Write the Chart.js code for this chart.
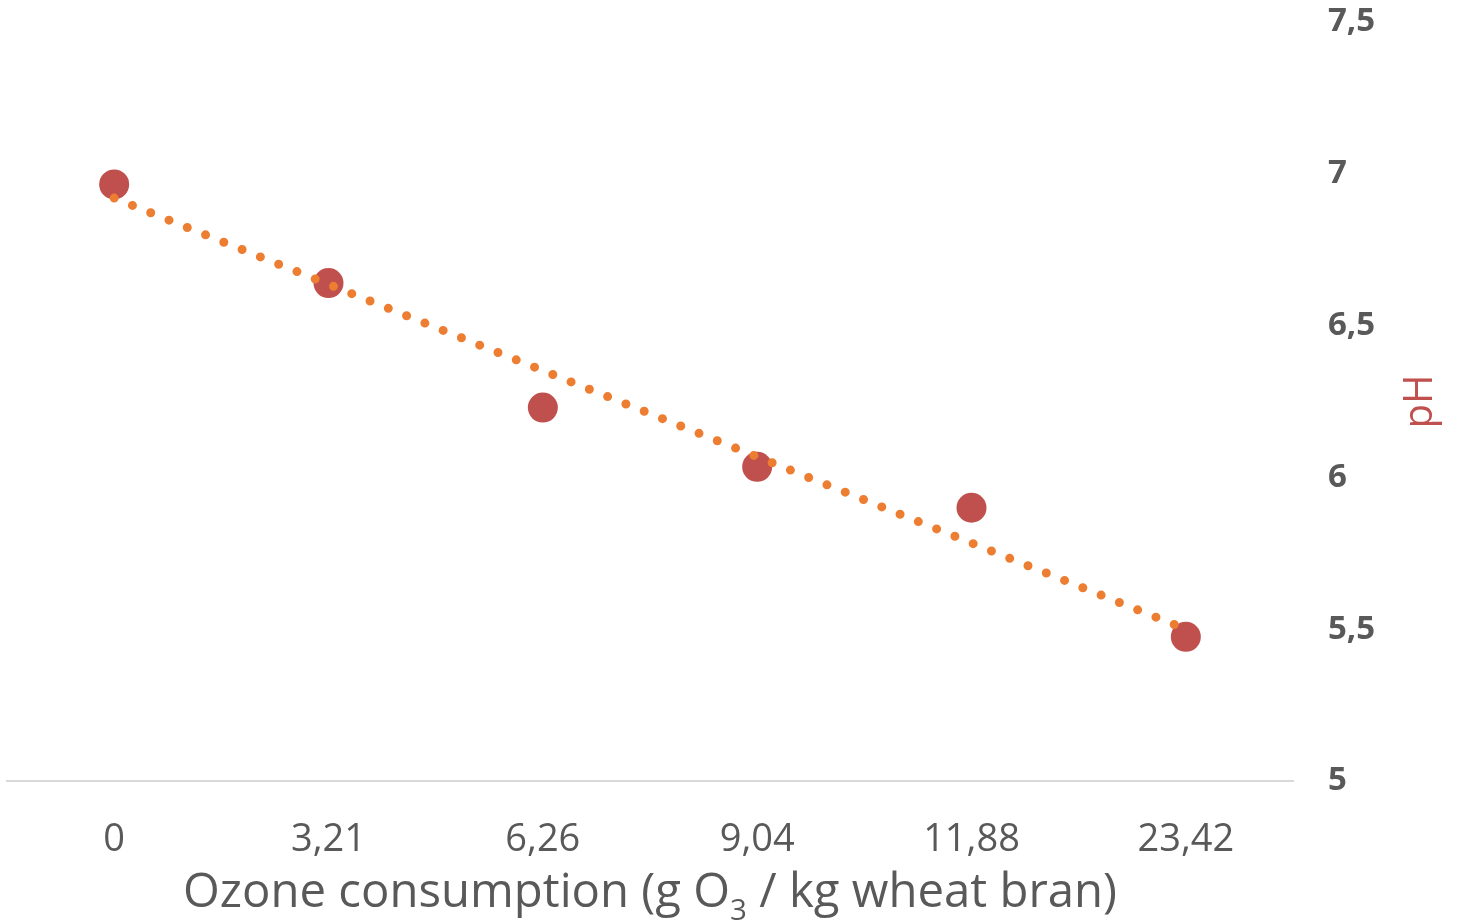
<!DOCTYPE html>
<html>
<head>
<meta charset="utf-8">
<script src="https://cdn.jsdelivr.net/npm/chart.js@4.4.1/dist/chart.umd.min.js"></script>
<style>
  html, body { margin: 0; padding: 0; background: #fff; }
</style>
</head>
<body>
<canvas id="grafica" width="1463" height="920"></canvas>
<script>
// ========== DATOS ==========
const categorias = ["0", "3,21", "6,26", "9,04", "11,88", "23,42"];
const valoresPH  = [6.965, 6.64, 6.23, 6.035, 5.90, 5.475];
// linea de tendencia (inicio y fin)
const tendencia  = [6.92, null, null, null, null, 5.50];
const ticksY     = [5, 5.5, 6, 6.5, 7, 7.5];

const tituloX = ["Ozone consumption (g O", "3", " / kg wheat bran)"];
const tituloY = "pH";

// -------------- UTILS ----------------
function coma(v){ return String(v).replace(".", ","); }

// ========== TITULOS (con subindice) ==========
const titulos = {
  id: "titulos",
  afterDraw(chart){
    const ctx = chart.ctx;
    const area = chart.chartArea;

    // titulo eje X
    const partes = [
      { t: tituloX[0], f: "48px 'Open Sans'", dy: 0 },
      { t: tituloX[1], f: "30px 'Open Sans'", dy: 13 },
      { t: tituloX[2], f: "48px 'Open Sans'", dy: 0 }
    ];
    ctx.save();
    let total = 0;
    partes.forEach(p => { ctx.font = p.f; p.w = ctx.measureText(p.t).width; total += p.w; });
    const ancho = 934;
    const cx = (area.left + area.right) / 2;
    ctx.translate(cx - ancho / 2, 907);
    ctx.scale(ancho / total, 1);
    ctx.fillStyle = "#595959";
    ctx.textBaseline = "alphabetic";
    ctx.textAlign = "left";
    let x = 0;
    partes.forEach(p => { ctx.font = p.f; ctx.fillText(p.t, x, p.dy); x += p.w; });
    ctx.restore();

    // titulo eje Y
    ctx.save();
    ctx.translate(1432, (area.top + area.bottom) / 2);
    ctx.rotate(-Math.PI / 2);
    ctx.font = "40px 'Open Sans'";
    ctx.fillStyle = "#C0504D";
    ctx.textAlign = "center";
    ctx.textBaseline = "alphabetic";
    ctx.fillText(tituloY, 0, 0);
    ctx.restore();
  }
};

// ========== GRAFICA ==========
new Chart(document.getElementById("grafica"), {
  type: "line",
  data: {
    labels: categorias,
    datasets: [
      {
        label: "Tendencia",
        data: tendencia,
        borderColor: "#ED7D31",
        borderWidth: 9,
        borderDash: [0, 19.7],
        borderCapStyle: "round",
        pointRadius: 0,
        spanGaps: true,
        fill: false,
        order: 0
      },
      {
        label: "pH",
        data: valoresPH,
        showLine: false,
        pointRadius: 15,
        pointHoverRadius: 15,
        pointBackgroundColor: "#C0504D",
        pointBorderColor: "#C0504D",
        pointBorderWidth: 0,
        order: 1
      }
    ]
  },
  options: {
    responsive: false,
    animation: false,
    layout: { autoPadding: false, padding: { left: 7, top: 22, right: 0, bottom: 0 } },
    plugins: { legend: { display: false }, tooltip: { enabled: false } },
    scales: {
      x: {
        type: "category",
        offset: true,
        grid: { display: false, drawTicks: false },
        border: { display: true, color: "#D9D9D9", width: 2 },
        ticks: {
          color: "#595959",
          font: { family: "'Open Sans'", size: 38 },
          padding: 36,
          maxRotation: 0
        },
        afterFit: s => { s.height = 139; s.paddingLeft = 0; s.paddingRight = 0; }
      },
      y: {
        position: "right",
        min: ticksY[0],
        max: ticksY[ticksY.length - 1],
        grid: { display: false, drawTicks: false },
        border: { display: false },
        afterBuildTicks: s => { s.ticks = ticksY.map(v => ({ value: v })); },
        ticks: {
          color: "#595959",
          font: { family: "'Open Sans'", size: 33, weight: "bold" },
          padding: 35,
          crossAlign: "near",
          callback: v => coma(v)
        },
        afterFit: s => { s.width = 170; s.paddingTop = 0; s.paddingBottom = 0; }
      }
    }
  },
  plugins: [titulos]
});
</script>
</body>
</html>
